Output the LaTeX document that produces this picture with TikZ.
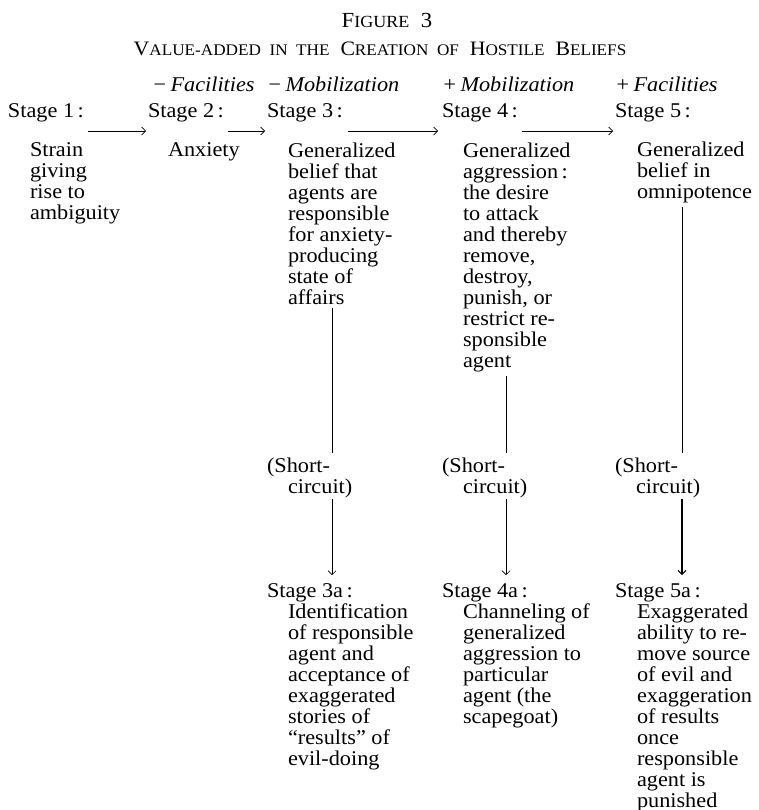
\documentclass[tikz,border=0pt]{standalone}
\usepackage{fontspec}
\setmainfont{Liberation Serif}[FakeStretch=1.06]
\usetikzlibrary{arrows.meta}
% fake small capitals for the headings
\newcommand\smcp[1]{{\fontsize{17}{17}\selectfont #1}}
\newcommand\smcpt[1]{{\fontsize{16.2}{16}\selectfont #1}}
\tikzset{
  txt/.style={anchor=base west, inner sep=0pt, outer sep=0pt, align=left,
              font=\fontsize{21}{21}\selectfont},
  cond/.style={txt, font=\fontsize{21}{21}\selectfont\itshape},
  head/.style={anchor=base, inner sep=0pt, font=\fontsize{21.5}{22}\selectfont},
  ttlfont/.style={anchor=base, inner sep=0pt, font=\fontsize{20.5}{22}\selectfont},
  link/.style={line width=0.6pt},
  arr/.style={link, -{Straight Barb[length=4pt,width=8pt]}},
}
\begin{document}
\begin{tikzpicture}[x=1pt,y=-1pt]
\useasboundingbox (0,0) rectangle (759,810);

% headings
\node[head] (fig) at (387,28) {F\smcp{IGURE}\ \ 3};
\node[ttlfont] (ttl) at (380,56) {V\smcpt{ALUE-ADDED\ \ IN\ \ THE}\ \ C\smcpt{REATION\ \ OF}\ \ H\smcpt{OSTILE}\ \ B\smcpt{ELIEFS}};

% conditions above the stages
\node[cond] (c2) at (152,92) {−\,Facilities};
\node[cond] (c3) at (267,92) {−\,Mobilization};
\node[cond] (c4) at (442,92) {+\,Mobilization};
\node[cond] (c5) at (615,92) {+\,Facilities};

% stage headers
\node[txt] (h1) at (8,118)   {Stage 1\,:};
\node[txt] (h2) at (148,118) {Stage 2\,:};
\node[txt] (h3) at (267,118) {Stage 3\,:};
\node[txt] (h4) at (442,118) {Stage 4\,:};
\node[txt] (h5) at (615,118) {Stage 5\,:};

% stage contents (a multi-line node sits on the baseline of its last line)
\node[txt] (b1) at (30,220)  {Strain\\giving\\rise to\\ambiguity};
\node[txt] (b2) at (168,157) {Anxiety};
\node[txt] (b3) at (288,304) {Generalized\\belief that\\agents are\\responsible\\for anxiety-\\producing\\state of\\affairs};
\node[txt] (b4) at (463,367) {Generalized\\aggression\,:\\the desire\\to attack\\and thereby\\remove,\\destroy,\\punish, or\\restrict re-\\sponsible\\agent};
\node[txt] (b5) at (637,199) {Generalized\\belief in\\omnipotence};

% short-circuits
\node[txt] (sc3) at (267,493) {(Short-\\\hspace*{21pt}circuit)};
\node[txt] (sc4) at (442,493) {(Short-\\\hspace*{21pt}circuit)};
\node[txt] (sc5) at (615,493) {(Short-\\\hspace*{21pt}circuit)};

% short-circuited stages
\node[txt] (a3) at (267,597) {Stage 3a\,:};
\node[txt] (a4) at (442,597) {Stage 4a\,:};
\node[txt] (a5) at (615,597) {Stage 5a\,:};
\node[txt] (ab3) at (288,765) {Identification\\of responsible\\agent and\\acceptance of\\exaggerated\\stories of\\“results” of\\evil-doing};
\node[txt] (ab4) at (463,723) {Channeling of\\generalized\\aggression to\\particular\\agent (the\\scapegoat)};
\node[txt] (ab5) at (637,807) {Exaggerated\\ability to re-\\move source\\of evil and\\exaggeration\\of results\\once\\responsible\\agent is\\punished};

% value-added sequence
\draw[arr] ([xshift=4pt,yshift=-13pt]h1.base east) -- ([xshift=-2pt,yshift=-13pt]h2.base west);
\draw[arr] ([xshift=4pt,yshift=-13pt]h2.base east) -- ([xshift=-2pt,yshift=-13pt]h3.base west);
\draw[arr] ([xshift=5pt,yshift=-13pt]h3.base east) -- ([xshift=-4pt,yshift=-13pt]h4.base west);
\draw[arr] ([xshift=4pt,yshift=-13pt]h4.base east) -- ([xshift=-2pt,yshift=-13pt]h5.base west);

% short-circuit branches
\coordinate (v3) at (332,0);
\coordinate (v4) at (506,0);
\coordinate (v5) at (682,0);
\draw[link] ([yshift=-4pt]b3.south -| v3) -- ([yshift=4pt]sc3.north -| v3);
\draw[link] ([yshift=-4pt]b4.south -| v4) -- ([yshift=4pt]sc4.north -| v4);
\draw[link] ([yshift=-4pt]b5.south -| v5) -- ([yshift=4pt]sc5.north -| v5);
\draw[arr] ([yshift=-2pt]sc3.south -| v3) -- ([yshift=8pt]a3.north -| v3);
\draw[arr] ([yshift=-2pt]sc4.south -| v4) -- ([yshift=8pt]a4.north -| v4);
\draw[arr, line width=1.1pt] ([yshift=-2pt]sc5.south -| v5) -- ([yshift=8pt]a5.north -| v5);
\end{tikzpicture}
\end{document}
